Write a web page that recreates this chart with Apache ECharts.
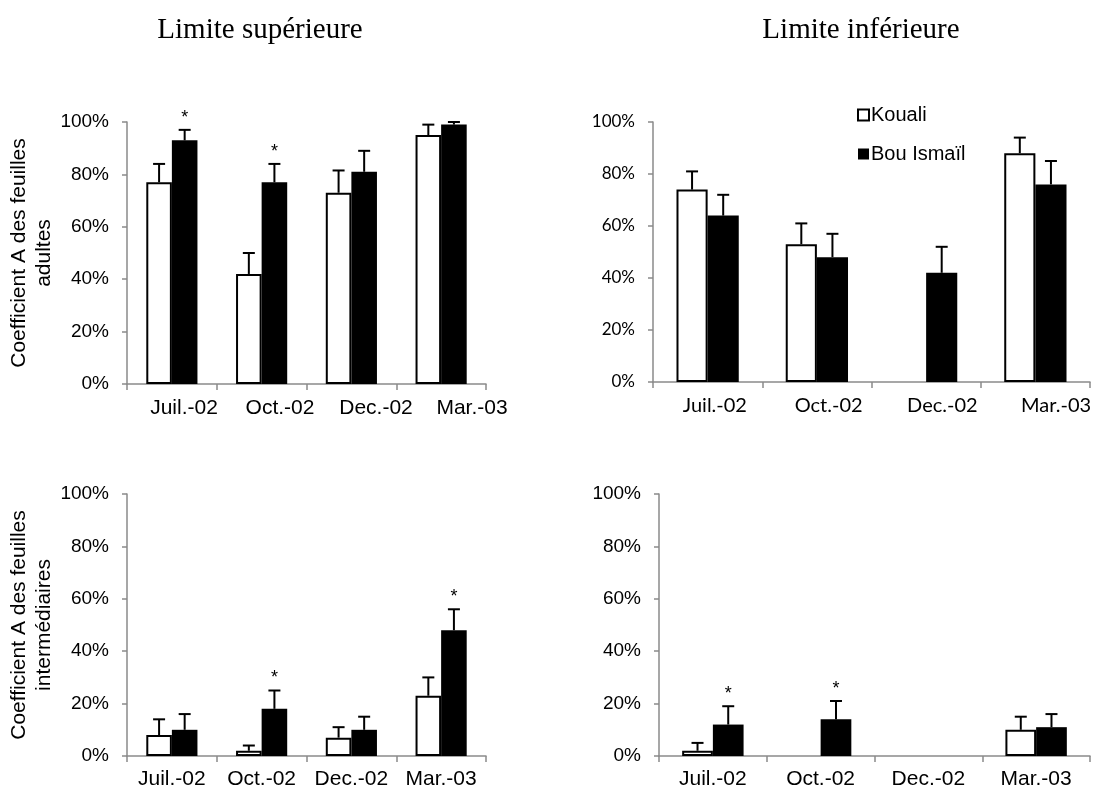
<!DOCTYPE html>
<html>
<head>
<meta charset="utf-8">
<script src="https://cdn.jsdelivr.net/npm/echarts@6/dist/echarts.min.js"></script>
<style>
  html, body { margin: 0; padding: 0; background: #fff; }
  #chart { width: 1113px; height: 792px; }
</style>
</head>
<body>
<div id="chart"></div>
<script>
// Categories (sampling dates)
const categories = ['Juil.-02', 'Oct.-02', 'Dec.-02', 'Mar.-03'];
const yTicks = [0, 20, 40, 60, 80, 100];
const seriesNames = ['Kouali', 'Bou Ismaïl'];

// Limite supérieure - feuilles adultes (%)
const supAdultKouali = [77, 42, 73, 95];
const supAdultKoualiErr = [7, 8, 8.5, 4];
const supAdultBou = [93, 77, 81, 99];
const supAdultBouErr = [4, 7, 8, 1];
const supAdultSig = [1, 1, 0, 0];

// Limite inférieure - feuilles adultes (%)
const infAdultKouali = [74, 53, 0, 88];
const infAdultKoualiErr = [7, 8, 0, 6];
const infAdultBou = [64, 48, 42, 76];
const infAdultBouErr = [8, 9, 10, 9];
const infAdultSig = [0, 0, 0, 0];

// Limite supérieure - feuilles intermédiaires (%)
const supInterKouali = [8, 2, 7, 23];
const supInterKoualiErr = [6, 2, 4, 7];
const supInterBou = [10, 18, 10, 48];
const supInterBouErr = [6, 7, 5, 8];
const supInterSig = [0, 1, 0, 1];

// Limite inférieure - feuilles intermédiaires (%)
const infInterKouali = [2, 0, 0, 10];
const infInterKoualiErr = [3, 0, 0, 5];
const infInterBou = [12, 14, 0, 11];
const infInterBouErr = [7, 7, 0, 5];
const infInterSig = [1, 1, 0, 0];

const ARIAL = "'Liberation Sans', Arial, sans-serif";
const CALIBRI = "Lato, 'Open Sans', sans-serif";
const TIMES = "'Liberation Serif', 'Times New Roman', serif";
const CAT_GAP = 0.43;

// labelGrid: the top-row date labels sit on a slightly wider band than the bars
const panels = [
  { grid: { left: 127, top: 122, width: 359, height: 262 }, font: ARIAL, tick: 19, cat: 21,
    labelGrid: { left: 136, top: 122, width: 384, height: 262 },
    yName: 'Coefficient A des feuilles\nadultes',
    k: supAdultKouali, ke: supAdultKoualiErr, b: supAdultBou, be: supAdultBouErr, sig: supAdultSig },
  { grid: { left: 653, top: 122, width: 437, height: 260 }, font: CALIBRI, tick: 17, cat: 20,
    labelGrid: { left: 658, top: 122, width: 463, height: 260 },
    yName: '',
    k: infAdultKouali, ke: infAdultKoualiErr, b: infAdultBou, be: infAdultBouErr, sig: infAdultSig },
  { grid: { left: 127, top: 494, width: 359, height: 262 }, font: ARIAL, tick: 19, cat: 21,
    yName: 'Coefficient A des feuilles\nintermédiaires',
    k: supInterKouali, ke: supInterKoualiErr, b: supInterBou, be: supInterBouErr, sig: supInterSig },
  { grid: { left: 659, top: 494, width: 431, height: 262 }, font: ARIAL, tick: 19, cat: 21,
    yName: '',
    k: infInterKouali, ke: infInterKoualiErr, b: infInterBou, be: infInterBouErr, sig: infInterSig }
];

const AXIS_COLOR = '#8a8a8a';

// Upward error bar with cap; optional significance star above the cap
function errorBarRenderer(side) {
  return function (params, api) {
    const ci = api.value(0), v = api.value(1), e = api.value(2), s = api.value(3);
    if (!(e > 0) && !s) return null;
    const band = api.size([1, 0])[0];
    const bw = band * (1 - CAT_GAP) / 2;
    const p0 = api.coord([ci, v]);
    const p1 = api.coord([ci, v + e]);
    const x = p0[0] + side * bw / 2;
    const children = [];
    if (e > 0) {
      children.push({ type: 'line', shape: { x1: x, y1: p0[1], x2: x, y2: p1[1] },
        style: { stroke: '#000', lineWidth: 2 } });
      children.push({ type: 'line', shape: { x1: x - 6, y1: p1[1], x2: x + 6, y2: p1[1] },
        style: { stroke: '#000', lineWidth: 2 } });
    }
    if (s) {
      children.push({ type: 'text', x: x, y: p1[1] - 3,
        style: { text: '*', fill: '#000', font: '18px ' + ARIAL, align: 'center', verticalAlign: 'bottom' } });
    }
    return { type: 'group', children: children };
  };
}

const grids = [], xAxes = [], yAxes = [], series = [];
panels.forEach((p, i) => {
  grids.push(p.grid);
  xAxes.push({
    type: 'category', gridIndex: i, data: categories,
    axisLine: { lineStyle: { color: AXIS_COLOR, width: 1.5 } },
    axisTick: { show: true, length: 6, lineStyle: { color: AXIS_COLOR, width: 1.5 } },
    axisLabel: { show: !p.labelGrid, color: '#000', fontFamily: p.font, fontSize: p.cat,
      margin: 13, interval: 0 }
  });
  yAxes.push({
    type: 'value', gridIndex: i, min: yTicks[0], max: yTicks[yTicks.length - 1], interval: 20,
    name: p.yName, nameLocation: 'middle', nameRotate: 90, nameGap: 70,
    nameTextStyle: { color: '#000', fontFamily: ARIAL, fontSize: 21, lineHeight: 25 },
    axisLine: { show: true, lineStyle: { color: AXIS_COLOR, width: 1.5 } },
    axisTick: { show: true, length: 5, lineStyle: { color: AXIS_COLOR, width: 1.5 } },
    splitLine: { show: false },
    axisLabel: { color: '#000', fontFamily: p.font, fontSize: p.tick, margin: 18,
      formatter: v => v + '%' }
  });
  series.push({
    name: seriesNames[0], type: 'bar', xAxisIndex: i, yAxisIndex: i,
    barGap: 0, barCategoryGap: (CAT_GAP * 100) + '%',
    itemStyle: { color: '#fff', borderColor: '#000', borderWidth: 2 },
    data: p.k.map(v => v === 0 ? { value: v, itemStyle: { borderWidth: 0 } } : v),
    z: 2
  });
  series.push({
    name: seriesNames[1], type: 'bar', xAxisIndex: i, yAxisIndex: i,
    barGap: 0, barCategoryGap: (CAT_GAP * 100) + '%',
    itemStyle: { color: '#000', borderWidth: 0 },
    data: p.b,
    z: 2
  });
  series.push({
    type: 'custom', xAxisIndex: i, yAxisIndex: i, z: 5, silent: true, clip: false,
    renderItem: errorBarRenderer(-1),
    encode: { x: 0, y: 1 },
    data: p.k.map((v, j) => [j, v, p.ke[j], 0])
  });
  series.push({
    type: 'custom', xAxisIndex: i, yAxisIndex: i, z: 5, silent: true, clip: false,
    renderItem: errorBarRenderer(1),
    encode: { x: 0, y: 1 },
    data: p.b.map((v, j) => [j, v, p.be[j], p.sig[j]])
  });
});

// Label-only axes for the top row
panels.forEach(p => {
  if (!p.labelGrid) return;
  const gi = grids.length;
  grids.push(p.labelGrid);
  xAxes.push({
    type: 'category', gridIndex: gi, data: categories,
    axisLine: { show: false }, axisTick: { show: false },
    axisLabel: { color: '#000', fontFamily: p.font, fontSize: p.cat, margin: 14, interval: 0 }
  });
  yAxes.push({ type: 'value', gridIndex: gi, show: false, min: 0, max: 100 });
});

const chart = echarts.init(document.getElementById('chart'), null, { renderer: 'canvas' });
chart.setOption({
  backgroundColor: '#fff',
  animation: false,
  title: [
    { text: 'Limite supérieure', left: 255, top: 11, textAlign: 'center',
      textStyle: { fontFamily: TIMES, fontWeight: 'normal', fontSize: 29, color: '#000' } },
    { text: 'Limite inférieure', left: 856, top: 11, textAlign: 'center',
      textStyle: { fontFamily: TIMES, fontWeight: 'normal', fontSize: 29, color: '#000' } }
  ],
  legend: {
    orient: 'vertical', left: 852, top: 100, itemGap: 19, itemWidth: 11, itemHeight: 11,
    selectedMode: false, icon: 'rect',
    textStyle: { fontFamily: ARIAL, fontSize: 20, color: '#000', padding: [0, 0, 0, -3] },
    data: [
      { name: 'Kouali', itemStyle: { color: '#fff', borderColor: '#000', borderWidth: 2 } },
      { name: 'Bou Ismaïl', itemStyle: { color: '#000', borderWidth: 0 } }
    ]
  },
  grid: grids,
  xAxis: xAxes,
  yAxis: yAxes,
  series: series
});
</script>
</body>
</html>
